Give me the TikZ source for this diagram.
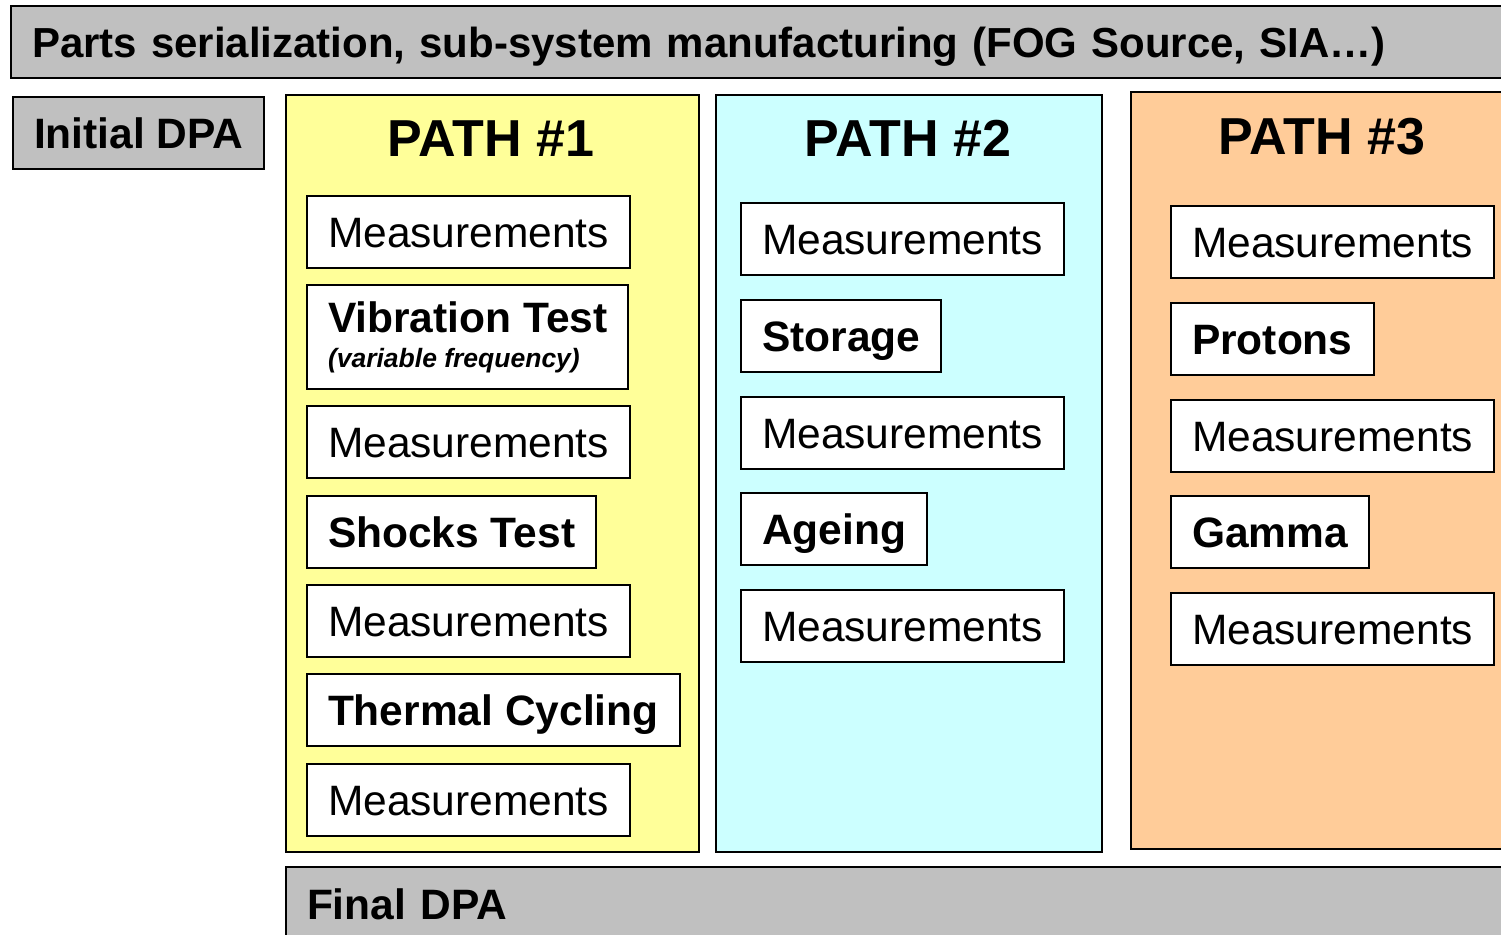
\documentclass[tikz,border=0pt]{standalone}
\usepackage{fontspec}
\setmainfont{Liberation Sans}
\usetikzlibrary{positioning}
\definecolor{barGray}{HTML}{C0C0C0}
\definecolor{pathYellow}{HTML}{FFFF99}
\definecolor{pathCyan}{HTML}{CCFFFF}
\definecolor{pathOrange}{HTML}{FFCC99}

\begin{document}
\begin{tikzpicture}[x=1pt,y=-1pt,line width=2pt,
    bar/.style={draw,fill=barGray,anchor=north west,minimum height=72pt,inner xsep=21pt,inner ysep=0pt,
      text height=30pt,text depth=0pt,font=\bfseries\fontsize{42.5}{48}\selectfont},
    panel/.style={draw,anchor=north west,inner sep=0pt,minimum height=757pt},
    pathtitle/.style={text height=37pt,text depth=0pt,inner sep=0pt,font=\bfseries\fontsize{52}{60}\selectfont},
    meas/.style={draw,fill=white,anchor=north west,minimum height=72pt,inner xsep=21pt,inner ysep=0pt,
      text height=30pt,text depth=0pt,font=\fontsize{42.5}{48}\selectfont},
    testbox/.style={meas,font=\bfseries\fontsize{42.5}{48}\selectfont}]
    \useasboundingbox (0,0) rectangle (1501,934);
    \clip (0,0) rectangle (1501,934);

    %%%% bars
    \node (parts) at (10,5) [bar,minimum width=1520pt,text width=1478pt,align=left,
      font=\bfseries\fontsize{42}{48}\selectfont] {Parts serialization, sub-system manufacturing (FOG Source, SIA\ldots)}; %
    \node (init) at (12,96) [bar] {Initial DPA}; %
    \node (final) at (285,866) [bar,minimum height=74pt,text width=1300pt,align=left] {Final DPA}; %

    %%%% paths
    \node (p1) at (285,94) [panel,fill=pathYellow,minimum width=413pt] {}; %
    \node (p2) at (715,94) [panel,fill=pathCyan,minimum width=386pt] {}; %
    \node (p3) at (1130,91) [panel,fill=pathOrange,minimum width=400pt] {}; %
    \node (t1) at (491,138) [pathtitle] {PATH \#1}; %
    \node (t2) at (908,138) [pathtitle] {PATH \#2}; %
    \node (t3) at (1322,136) [pathtitle] {PATH \#3}; %

    %%%% path 1
    \node (m11) at (306,195) [meas] {Measurements}; %
    \node (vib) at (306,284) [draw,fill=white,anchor=north west,minimum height=104pt,inner xsep=21pt,inner ysep=0pt,
      align=left,font=\bfseries\fontsize{42.5}{35}\selectfont] {Vibration Test\\{\fontsize{26.5}{35}\selectfont\itshape (variable frequency)}}; %
    \node (m12) at (306,405) [meas] {Measurements}; %
    \node (shock) at (306,495) [testbox] {Shocks Test}; %
    \node (m13) at (306,584) [meas] {Measurements}; %
    \node (therm) at (306,673) [testbox] {Thermal Cycling}; %
    \node (m14) at (306,763) [meas] {Measurements}; %

    %%%% path 2
    \node (m21) at (740,202) [meas] {Measurements}; %
    \node (stor) at (740,299) [testbox] {Storage}; %
    \node (m22) at (740,396) [meas] {Measurements}; %
    \node (age) at (740,492) [testbox] {Ageing}; %
    \node (m23) at (740,589) [meas] {Measurements}; %

    %%%% path 3
    \node (m31) at (1170,205) [meas] {Measurements}; %
    \node (prot) at (1170,302) [testbox] {Protons}; %
    \node (m32) at (1170,399) [meas] {Measurements}; %
    \node (gam) at (1170,495) [testbox] {Gamma}; %
    \node (m33) at (1170,592) [meas] {Measurements}; %
\end{tikzpicture}
\end{document}
